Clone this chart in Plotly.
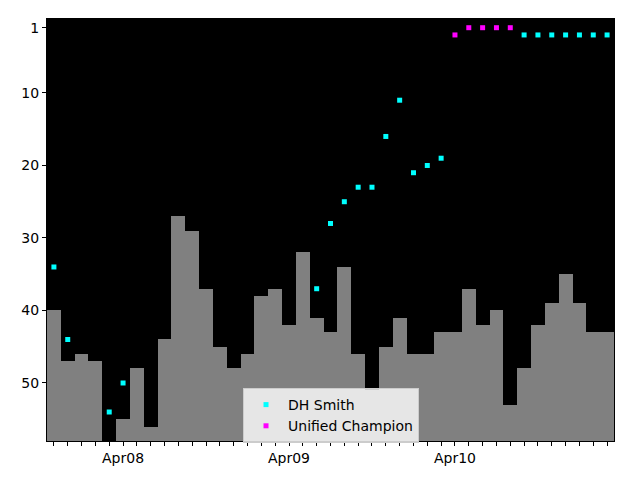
import pandas as pd
import plotly.graph_objects as go

# Timestamps of each ranking snapshot (every 2 hours)
times = pd.date_range("2008-04-07 14:00", periods=41, freq="2h")

# Gray bars: rank value (None = not ranked in view)
rank = [40, 47, 46, 47, None, 55, 48, 56, 44, 27,
        29, 37, 45, 48, 46, 38, 37, 42, 32, 41,
        43, 34, 46, 51, 45, 41, 46, 46, 43, 43,
        37, 42, 40, 53, 48, 42, 39, 35, 39, 43,
        43]

dh_smith = [34, 44, None, None, 54, 50, None, None, None, None,
            None, None, None, None, None, None, None, None, None, 37,
            28, 25, 23, 23, 16, 11, 21, 20, 19, None,
            None, None, None, None, 2, 2, 2, 2, 2, 2,
            2]

unified = [None] * 29 + [2, 1, 1, 1, 1] + [None] * 7

bottom = 58
y_ticks = [1, 10, 20, 30, 40, 50]
x_tick_dates = ["2008-04-08", "2008-04-09", "2008-04-10"]
x_tick_text = ["Apr08", "Apr09", "Apr10"]

step_ms = 2 * 3600 * 1000
bar_h = [None if v is None else bottom - v for v in rank]

fig = go.Figure()
fig.add_trace(go.Bar(
    x=times, y=bar_h, base=rank, width=step_ms,
    marker=dict(color="#808080", line=dict(width=0)),
    showlegend=False, hoverinfo="skip",
))
fig.add_trace(go.Scatter(
    x=times, y=dh_smith, mode="markers", name="DH Smith",
    marker=dict(symbol="square", size=5, color="#00ffff"),
))
fig.add_trace(go.Scatter(
    x=times, y=unified, mode="markers", name="Unified Champion",
    marker=dict(symbol="square", size=5, color="#ff00ff"),
))

x0 = times[0] - pd.Timedelta(hours=1)
x1 = times[-1] + pd.Timedelta(hours=1)

fig.update_layout(
    width=640, height=480,
    margin=dict(l=47, r=26, t=19, b=39),
    paper_bgcolor="white", plot_bgcolor="black",
    bargap=0,
    font=dict(family="DejaVu Sans", size=14, color="black"),
    legend=dict(
        x=0.3457, y=0.1256, xanchor="left", yanchor="top",
        bgcolor="rgba(255,255,255,0.8)", bordercolor="#cccccc", borderwidth=1,
        font=dict(size=14), itemwidth=34,
    ),
)
fig.update_xaxes(
    type="date", range=[x0, x1],
    tickvals=x_tick_dates, ticktext=x_tick_text,
    ticks="outside", ticklen=4, tickcolor="black",
    minor=dict(dtick=step_ms, tick0="2008-04-08", ticks="outside", ticklen=4, tickcolor="black", showgrid=False),
    showgrid=False, zeroline=False,
    showline=True, linecolor="black", linewidth=1, mirror=True,
)
fig.update_yaxes(
    range=[bottom, -0.2], tickvals=y_ticks,
    ticks="outside", ticklen=4, tickcolor="black",
    showgrid=False, zeroline=False,
    showline=True, linecolor="black", linewidth=1, mirror=True,
)

fig.write_html("out.html")
